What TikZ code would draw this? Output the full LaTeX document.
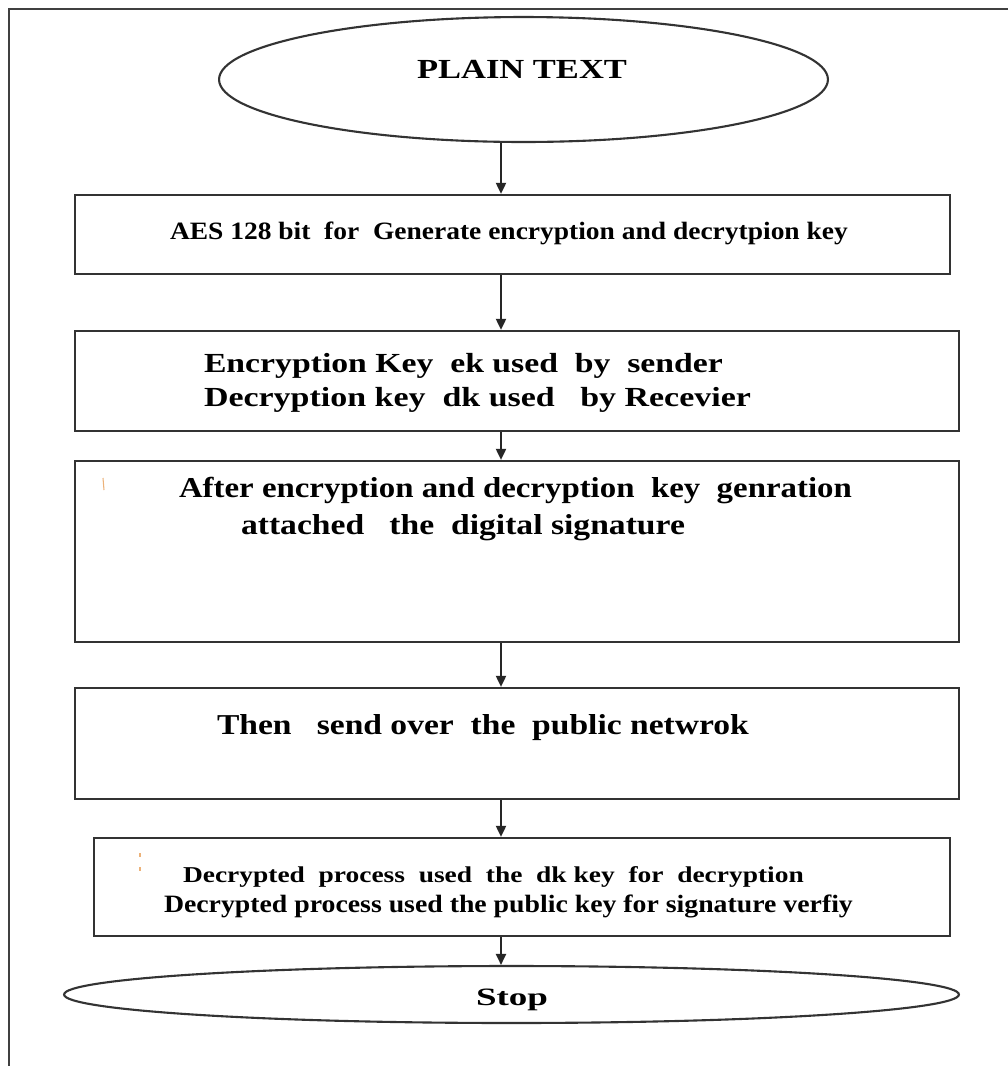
\documentclass[tikz,border=0pt]{standalone}
\usepackage{fontspec}
\usepackage{graphicx}
\setmainfont{Liberation Serif}
\usetikzlibrary{shapes.geometric,arrows.meta}

% stretch a line of text to a given width, keeping its height
\newcommand{\fitline}[2]{\resizebox{#1}{\height}{#2}}

\begin{document}
\begin{tikzpicture}[x=0.02cm,y=-0.02cm,
  frameline/.style={line width=1.2pt,draw=black!75},
  stepbox/.style={draw=black!80,line width=1.3pt,rectangle,inner sep=0pt},
  terminal/.style={draw=black!80,line width=1.2pt,ellipse,inner sep=0pt},
  flow/.style={draw=black!85,line width=1.1pt,-{Triangle[length=0.22cm,width=0.2cm]}},
  txt/.style={anchor=base west,inner sep=0pt,outer sep=0pt,font=\bfseries},
  speck/.style={draw=brown!50!orange!60,line width=0.6pt}]

\useasboundingbox (0,0) rectangle (1008,1066);
\fill[white] (0,0) rectangle (1008,1066);

% outer frame (open on the right and bottom)
\draw[frameline] (9,1066) -- (9,9) -- (1008,9);

% shapes
\node[terminal,minimum width=12.18cm,minimum height=2.5cm] (plain) at (523.5,79.5) {};
\node[stepbox,minimum width=17.5cm,minimum height=1.58cm] (aes) at (512.5,234.5) {};
\node[stepbox,minimum width=17.68cm,minimum height=2.0cm] (keys) at (517,381) {};
\node[stepbox,minimum width=17.68cm,minimum height=3.62cm] (sign) at (517,551.5) {};
\node[stepbox,minimum width=17.68cm,minimum height=2.22cm] (send) at (517,743.5) {};
\node[stepbox,minimum width=17.12cm,minimum height=1.96cm] (decrypt) at (522,887) {};
\node[terminal,minimum width=17.9cm,minimum height=1.14cm] (stop) at (511.5,994.5) {};

% labels
\node[txt] (tplain) at (417,78) {\fontsize{15.7pt}{18pt}\selectfont\fitline{4.2cm}{PLAIN TEXT}};
\node[txt] (taes) at (170,239) {\fontsize{14.2pt}{17pt}\selectfont\fitline{13.56cm}{AES 128 bit\ \ for\ \ Generate encryption and decrytpion key}};
\node[txt] (tkeysa) at (204,372) {\fontsize{15.7pt}{18pt}\selectfont\fitline{10.38cm}{Encryption Key\ \ ek used\ \ by\ \ sender}};
\node[txt] (tkeysb) at (204,406) {\fontsize{15.7pt}{18pt}\selectfont\fitline{10.94cm}{Decryption key\ \ dk used\ \ \ by Recevier}};
\node[txt] (tsigna) at (179,497) {\fontsize{16.4pt}{19pt}\selectfont\fitline{13.46cm}{After encryption and decryption\ \ key\ \ genration}};
\node[txt] (tsignb) at (241,534) {\fontsize{16.4pt}{19pt}\selectfont\fitline{8.88cm}{attached\ \ \ the\ \ digital signature}};
\node[txt] (tsend) at (217,734) {\fontsize{16.4pt}{19pt}\selectfont\fitline{10.64cm}{Then\ \ \ send over\ \ the\ \ public netwrok}};
\node[txt] (tdeca) at (183,882) {\fontsize{12.9pt}{15pt}\selectfont\fitline{12.42cm}{Decrypted\ \ process\ \ used\ \ the\ \ dk key\ \ for\ \ decryption}};
\node[txt] (tdecb) at (164,912) {\fontsize{14.2pt}{17pt}\selectfont\fitline{13.78cm}{Decrypted process used the public key for signature verfiy}};
\node[txt] (tstop) at (476,1005) {\fontsize{14.2pt}{17pt}\selectfont\fitline{1.44cm}{Stop}};

% stray marks inside the boxes
\draw[speck] (103,478) -- (104,490);
\draw[speck] (140,853) -- (140,857);
\draw[speck] (140,867) -- (140,871);

% connectors along the common spine
\coordinate (spine) at (501,0);
\draw[flow] (plain.south -| spine) -- (aes.north -| spine);
\draw[flow] (aes.south -| spine) -- (keys.north -| spine);
\draw[flow] (keys.south -| spine) -- (sign.north -| spine);
\draw[flow] (sign.south -| spine) -- (send.north -| spine);
\draw[flow] (send.south -| spine) -- (decrypt.north -| spine);
\draw[flow] (decrypt.south -| spine) -- (stop.north -| spine);
\end{tikzpicture}
\end{document}
